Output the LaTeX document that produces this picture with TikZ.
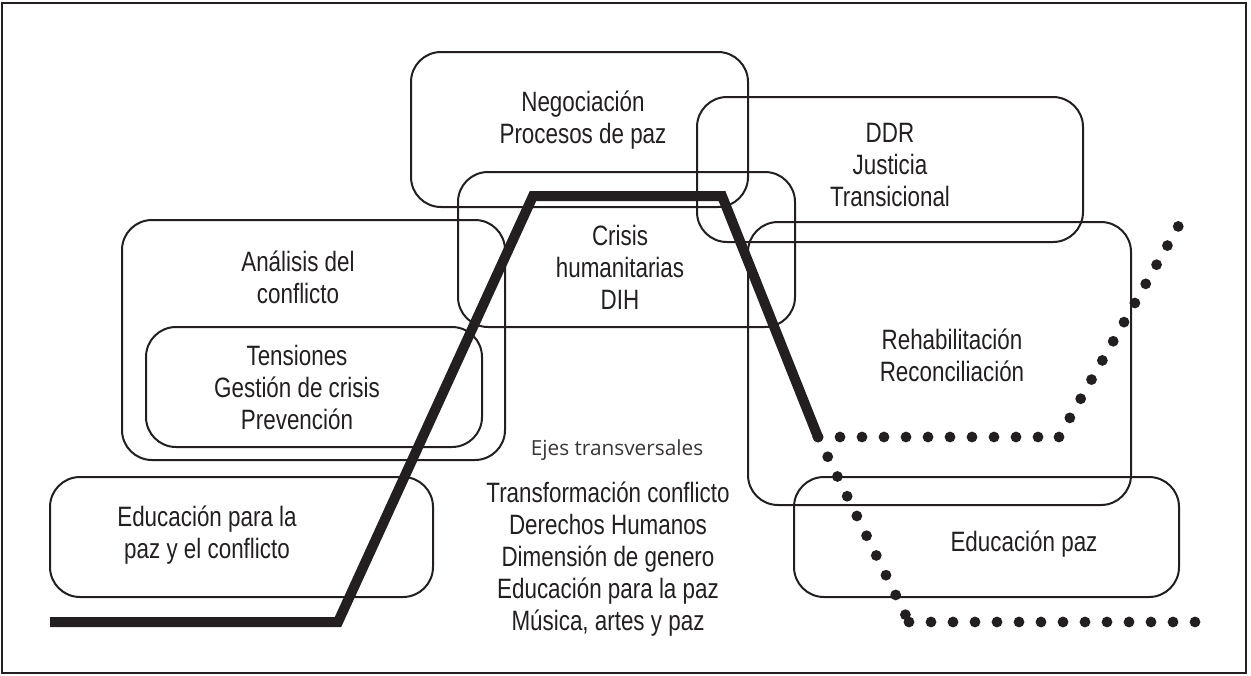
\documentclass[tikz,border=0pt]{standalone}
\usepackage{fontspec}
\setmainfont{Liberation Sans}
\newfontfamily\condfont[FakeStretch=0.8]{Liberation Sans}
\newfontfamily\ejesfont{Open Sans}
\usetikzlibrary{fit,positioning}
\definecolor{ink}{RGB}{35,31,32}
\tikzset{
    box/.style = {draw=ink, line width=1pt, rounded corners=15pt, inner sep=0pt},
    txt/.style = {align=center, inner sep=0pt, text=ink,
        font=\condfont\fontsize{14pt}{16pt}\selectfont},
    axes/.style = {align=center, inner sep=0pt, text=ink!90,
        font=\ejesfont\fontsize{10.4pt}{12pt}\selectfont},
    trend/.style = {draw=ink, line width=5pt, line join=miter},
    dots/.style = {draw=ink, line width=5.4pt, line cap=round, dash pattern=on 0pt off 11pt}
}

\begin{document}
\begin{tikzpicture}[x=0.5pt, y=-0.5pt]
        \useasboundingbox (0,0) rectangle (1251,675);
        \draw [ink, line width=1.1pt] (2,3) rectangle (1246,673);

        \node [box, fit={(411,52) (748,207)}, name=negbox] {};
        \node [box, fit={(697,97) (1083,242)}, name=ddrbox] {};
        \node [box, fit={(458,172) (795,327)}, name=crisisbox] {};
        \node [box, fit={(122,220) (505,460)}, name=analisisbox] {};
        \node [box, fit={(146,327) (482,447)}, name=tensionbox] {};
        \node [box, fit={(50,477) (433,597)}, name=eduleftbox] {};
        \node [box, fit={(748,222) (1131,505)}, name=rehabbox] {};
        \node [box, fit={(794,477) (1179,597)}, name=edurightbox] {};

        \node [txt] (negtxt) at (583,120) {Negociación\\Procesos de paz};
        \node [txt] (ddrtxt) at (890,165) {DDR\\Justicia\\Transicional};
        \node [txt] (crisistxt) at (620,267) {Crisis\\humanitarias\\DIH};
        \node [txt] (analisistxt) at (298,277) {Análisis del\\conflicto};
        \node [txt] (tensiontxt) at (297,387) {Tensiones\\Gestión de crisis\\Prevención};
        \node [txt] (edulefttxt) at (207,535) {Educación para la\\paz y el conflicto};
        \node [txt] (rehabtxt) at (952,355) {Rehabilitación\\Reconciliación};
        \node [txt] (edurighttxt) at (1024,544) {Educación paz};
        \node [axes] (ejes) at (617,450) {Ejes transversales};
        \node [txt] (ejeslist) at (608,559) {Transformación conflicto\\Derechos Humanos\\Dimensión de genero\\Educación para la paz\\Música, artes y paz};

        \coordinate (start) at (50,622);
        \coordinate (rise) at (338,622);
        \coordinate (topleft) at (533,196);
        \coordinate (topright) at (722,196);
        \coordinate (fork) at (818,437);
        \coordinate (upbend) at (1059,437);
        \coordinate (upend) at (1183,218);
        \coordinate (downbend) at (909,622);
        \coordinate (downend) at (1197,622);

        \draw [trend] (start) -- (rise) -- (topleft) -- (topright) -- (fork);
        \draw [dots] (fork) -- (upbend);
        \draw [dots] (upbend) -- (upend);
        \draw [dots] (fork) -- (downbend);
        \draw [dots] (downbend) -- (downend);
\end{tikzpicture}
\end{document}
